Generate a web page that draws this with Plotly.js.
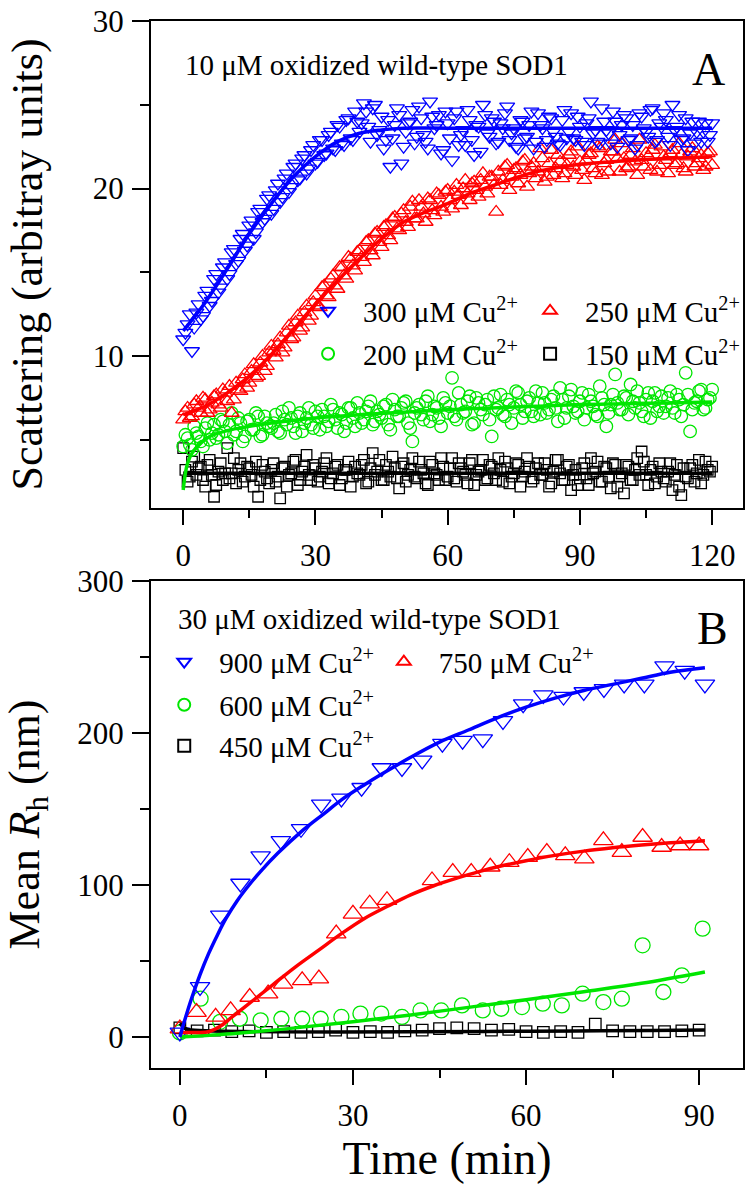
<!DOCTYPE html>
<html>
<head>
<meta charset="utf-8">
<script src="https://cdn.plot.ly/plotly-3.0.1.min.js"></script>
<style>
  html, body { margin: 0; padding: 0; background: #fff; }
  #chart { width: 752px; height: 1186px; }
</style>
</head>
<body>
<div id="chart"></div>
<script>
// ---- Panel A: light scattering, 10 uM oxidized SOD1 (time in min) ----
// readings on the whole minute
const timeA = [0,1,2,3,4,5,6,7,8,9,10,11,12,13,14,15,16,17,18,19,20,21,22,23,24,25,26,27,28,29,30,
  31,32,33,34,35,36,37,38,39,40,41,42,43,44,45,46,47,48,49,50,51,52,53,54,55,56,57,58,59,60,
  61,62,63,64,65,66,67,68,69,70,71,72,73,74,75,76,77,78,79,80,81,82,83,84,85,86,87,88,89,90,
  91,92,93,94,95,96,97,98,99,100,101,102,103,104,105,106,107,108,109,110,111,112,113,114,115,116,117,118,119,120];

const cu300A = [11.0,11.9,10.3,12.6,12.2,13.6,13.0,14.6,13.8,15.3,14.6,16.2,15.5,17.0,16.3,17.8,17.0,18.6,18.0,19.4,
  18.5,19.9,19.2,20.6,19.8,21.3,20.5,21.8,20.9,22.3,21.5,22.9,22.0,23.2,22.4,23.8,22.7,24.1,23.0,24.6,
  23.4,25.1,23.7,24.8,23.2,24.3,22.9,21.3,23.8,24.4,22.5,23.9,24.7,23.1,24.2,22.8,25.2,23.6,24.4,22.3,
  23.9,21.7,24.6,23.2,22.6,24.1,22.0,23.7,25.0,23.3,24.2,22.7,23.9,24.5,22.9,23.6,22.4,24.0,23.1,24.6,
  22.8,23.8,22.5,24.3,23.4,22.7,24.1,23.0,24.5,22.9,23.7,22.6,24.2,23.3,22.8,24.8,23.5,22.7,24.0,23.2,
  24.4,22.9,23.8,22.6,24.3,23.4,24.7,22.8,23.9,24.5,23.1,25.0,23.7,22.9,24.2,23.3,22.7,24.0,23.4,22.8,23.9];

const cu250A = [6.2,6.9,6.4,7.3,6.6,7.4,6.8,7.6,7.1,8.0,7.3,6.6,8.4,7.9,8.9,8.4,9.5,8.8,10.0,9.4,
  10.6,9.9,11.1,10.5,11.8,11.1,12.4,11.7,13.0,12.4,13.6,12.9,14.2,13.5,14.8,14.0,15.3,14.6,15.8,15.1,
  16.3,15.6,16.9,16.0,17.4,16.5,17.8,16.9,18.3,17.5,18.7,17.7,19.2,18.2,18.9,18.0,19.3,18.4,19.6,18.6,
  19.9,18.8,20.2,19.0,20.5,19.3,20.4,19.5,20.9,19.7,20.7,18.6,20.2,21.3,19.9,21.1,20.3,21.6,20.1,21.3,
  20.6,22.4,20.4,21.5,20.8,22.0,20.6,21.4,22.2,20.8,21.6,20.5,22.0,21.2,22.5,20.8,21.7,22.2,22.9,21.0,
  21.8,21.3,22.4,20.8,21.7,22.1,21.1,22.6,21.4,21.9,20.9,22.3,21.5,22.0,21.0,22.2,21.3,21.8,21.1,22.1,21.4];

const cu200A = [4.6,5.1,4.4,5.4,4.9,5.7,5.0,5.9,5.3,6.1,4.8,6.6,5.5,6.0,5.2,6.2,5.6,6.4,5.3,6.0,
  5.7,6.5,5.4,6.2,6.9,5.8,6.4,5.5,6.3,5.9,6.7,5.6,6.4,6.1,6.8,5.7,6.5,6.0,6.9,5.8,
  6.6,6.2,7.0,5.9,6.7,6.3,7.1,5.6,6.8,6.4,7.2,6.0,4.9,6.9,6.5,7.3,6.1,7.0,6.3,7.5,
  6.6,8.7,6.2,7.1,6.7,7.6,6.0,7.2,6.5,7.4,5.2,6.8,7.7,6.4,7.1,6.9,7.8,6.3,7.3,6.7,
  7.9,6.5,7.2,6.8,7.6,6.1,7.4,6.9,8.0,6.6,7.3,6.2,7.7,7.0,6.4,7.5,5.8,7.1,8.9,6.8,
  7.6,6.5,7.3,7.9,6.7,7.4,6.3,7.8,7.0,6.6,7.5,6.9,7.7,6.4,9.0,5.5,7.2,7.9,6.8,7.4,8.0];

const cu150A = [4.5,2.5,3.7,2.9,3.4,2.2,3.8,1.6,3.1,2.6,4.5,3.0,2.4,3.6,2.8,3.3,2.2,1.6,3.5,2.7,
  3.2,2.5,1.5,3.4,2.9,3.7,2.3,3.1,4.1,2.6,3.3,2.8,3.6,2.4,3.0,3.5,2.7,3.2,2.2,3.4,
  2.9,3.8,2.5,4.2,3.1,2.6,3.5,2.8,3.3,2.1,3.6,2.9,3.9,2.7,3.2,2.4,3.7,3.0,2.6,3.4,
  2.8,3.9,2.5,3.3,2.9,3.6,2.3,3.1,3.8,2.7,3.4,2.6,3.2,3.7,2.4,3.0,3.5,2.8,3.9,2.5,
  3.3,2.9,3.6,2.2,3.1,3.8,2.6,3.4,2.0,3.2,2.7,3.6,2.3,3.0,3.7,2.5,3.3,2.1,3.5,2.8,
  1.8,3.4,2.6,3.9,4.3,2.9,3.2,2.4,3.6,2.7,3.1,2.0,3.5,1.7,2.8,3.3,2.5,3.8,2.9,3.2,3.4];

// readings on the half minute
const timeAHalf = [0.5,1.5,2.5,3.5,4.5,5.5,6.5,7.5,8.5,9.5,10.5,11.5,12.5,13.5,14.5,15.5,16.5,17.5,18.5,19.5,
  20.5,21.5,22.5,23.5,24.5,25.5,26.5,27.5,28.5,29.5,30.5,31.5,32.5,33.5,34.5,35.5,36.5,37.5,38.5,39.5,
  40.5,41.5,42.5,43.5,44.5,45.5,46.5,47.5,48.5,49.5,50.5,51.5,52.5,53.5,54.5,55.5,56.5,57.5,58.5,59.5,
  60.5,61.5,62.5,63.5,64.5,65.5,66.5,67.5,68.5,69.5,70.5,71.5,72.5,73.5,74.5,75.5,76.5,77.5,78.5,79.5,
  80.5,81.5,82.5,83.5,84.5,85.5,86.5,87.5,88.5,89.5,90.5,91.5,92.5,93.5,94.5,95.5,96.5,97.5,98.5,99.5,
  100.5,101.5,102.5,103.5,104.5,105.5,106.5,107.5,108.5,109.5,110.5,111.5,112.5,113.5,114.5,115.5,116.5,117.5,118.5,119.5];

const cu300AHalf = [11.4,12.5,11.7,13.1,12.4,13.9,13.3,14.9,14.1,15.6,14.9,16.4,15.7,17.3,16.6,18.1,17.4,18.8,18.2,19.6,
  18.8,20.3,19.5,20.9,20.1,21.5,20.6,22.0,21.2,22.6,21.6,22.9,22.1,23.4,22.3,23.7,22.6,24.2,22.9,24.0,
  23.9,24.6,22.8,25.0,23.5,22.4,24.1,23.0,24.8,21.5,23.4,24.0,22.7,24.9,23.2,22.4,24.3,23.8,22.1,24.6,
  23.0,24.2,22.6,23.5,24.7,22.9,23.8,22.2,24.4,23.1,24.0,22.8,23.6,24.9,23.3,22.5,24.1,23.0,23.8,22.4,
  24.5,23.6,22.9,24.2,23.1,22.6,24.7,23.4,23.0,24.3,22.8,23.9,25.2,23.5,22.7,24.0,23.3,24.6,22.5,23.8,
  24.2,23.0,22.4,24.5,23.6,23.1,24.8,22.9,23.7,24.1,22.6,23.5,24.4,23.0,22.3,24.0,23.4,22.8,23.9,23.2];

const cu250AHalf = [6.7,6.3,7.1,6.9,7.5,6.6,7.2,7.7,6.9,7.8,8.2,7.4,8.0,8.6,8.1,9.1,8.7,9.6,9.1,10.2,
  10.3,10.7,10.2,11.4,11.0,12.0,11.5,12.6,12.1,13.2,13.0,14.1,13.6,14.6,14.2,15.3,14.8,15.9,15.4,16.2,
  15.9,16.8,16.3,17.3,16.8,17.7,17.2,18.2,17.6,18.5,18.0,18.9,18.2,19.3,18.5,19.4,18.7,19.7,18.9,19.8,
  19.3,19.8,19.6,20.0,19.7,20.3,19.9,20.5,20.1,20.7,20.2,21.0,20.5,21.4,20.7,21.2,20.8,21.7,20.9,21.5,
  21.0,21.8,20.7,22.3,21.2,21.6,20.9,22.0,21.3,22.5,21.1,21.7,22.1,20.9,22.4,21.5,21.0,22.2,21.8,22.7,
  21.2,22.0,21.6,22.9,21.3,21.9,22.3,21.0,22.5,21.7,22.1,21.4,22.7,21.2,21.9,22.4,21.5,22.0,21.3,22.2];

const cu200AHalf = [5.3,4.7,5.8,5.2,4.6,6.0,5.4,5.1,6.2,5.5,5.9,5.3,6.3,4.9,6.1,5.6,6.6,5.2,6.4,5.8,
  6.0,5.5,6.7,5.9,6.3,5.4,6.6,6.0,6.9,5.7,6.4,6.8,5.8,7.1,6.2,6.6,5.5,6.9,6.3,7.2,
  6.0,6.7,7.3,6.1,6.5,7.0,5.9,7.4,6.4,6.9,7.3,5.7,6.6,7.1,6.2,7.6,6.5,6.9,5.8,7.2,
  7.0,6.4,7.8,6.6,7.3,5.9,7.5,6.8,7.1,6.2,7.6,6.9,6.5,7.4,6.0,7.9,7.1,6.7,7.5,6.4,
  7.2,7.8,6.6,7.4,6.9,8.1,6.3,7.6,7.0,6.7,7.8,6.9,7.3,6.5,8.2,7.1,6.6,7.7,7.2,6.8,
  7.5,8.3,6.9,7.2,6.4,7.8,7.3,6.7,7.6,7.0,7.9,6.6,7.4,7.1,7.7,6.8,7.3,8.0,6.9,7.5];

const cu150AHalf = [3.2,2.8,4.0,3.3,2.6,3.5,2.9,2.3,3.6,3.0,2.7,3.9,3.2,2.5,3.4,2.9,3.7,2.6,3.1,2.4,
  3.6,2.8,3.3,2.2,3.0,3.8,2.6,3.4,2.9,3.5,2.5,3.1,3.9,2.7,3.4,2.3,3.2,3.7,2.8,3.0,
  3.5,2.4,3.3,2.9,3.8,2.6,3.1,4.0,2.7,3.4,2.5,3.2,2.8,3.7,3.0,2.3,3.5,2.9,3.9,2.6,
  3.3,2.7,3.6,3.1,2.4,3.8,2.9,3.2,2.6,3.5,3.0,3.9,2.5,3.3,2.8,3.6,2.2,3.1,3.4,2.7,
  3.6,2.9,3.2,2.4,3.8,3.0,2.6,3.5,2.9,2.3,3.3,2.7,3.9,3.1,2.5,3.4,2.8,3.6,2.2,3.0,
  3.5,2.6,3.2,2.9,3.7,2.3,3.4,2.8,3.1,2.5,3.6,2.9,2.2,3.3,2.7,3.5,3.0,2.4,3.7,3.1];

// fitted curves, panel A
const fitT300A = [0,5,10,15,20,25,30,35,40,45,50,60,70,80,90,100,110,120];
const fit300A = [11.5,13.2,15.2,17.3,19.1,20.7,21.9,22.8,23.3,23.5,23.6,23.6,23.6,23.6,23.6,23.6,23.6,23.6];
const fitT250A = [0,5,10,15,20,25,30,35,40,45,50,55,60,65,70,75,80,85,90,100,110,120];
const fit250A = [6.5,7.0,7.8,8.8,10.1,11.6,13.1,14.5,15.8,17.0,18.0,18.6,19.1,19.7,20.15,20.6,21.0,21.25,21.45,21.65,21.8,21.9];
const fitT200A = [0,0.5,1,2,4,6,10,15,20,30,40,50,60,70,80,90,100,110,120];
const fit200A = [2.0,3.0,3.6,4.2,4.8,5.2,5.55,5.8,6.0,6.3,6.5,6.65,6.8,6.9,7.0,7.1,7.15,7.2,7.25];
const fitT150A = [0,120];
const fit150A = [3.0,3.0];

// ---- Panel B: mean hydrodynamic radius, 30 uM oxidized SOD1 ----
const time900B = [0,3.5,7,10.5,14,17.5,21,24.5,28,31.5,35,38.5,42,45.5,49,52.5,56,59.5,63,66.5,70,73.5,77,80.5,84,87.5,91];
const cu900B = [3,33,80,101,119,129,137,153,157,164,177,177,182,193,195,196,208,219,225,224,227,229,232,232,244,241,232];
const time750B = [0,2.9,6.2,8.8,12.1,15.3,17.9,21.2,24.1,27.1,30,32.9,35.9,43.7,47.3,50.5,53.8,57.1,60.3,63.6,66.8,70.1,73.4,76.6,80.2,83.5,86.7,90];
const cu750B = [5.5,16.4,13.2,17.5,26.3,28.5,35,37.3,38.4,68,81,87.7,90,103,108.5,108.5,112,115,118.4,121.7,119.5,117.3,129.4,121.7,131.6,125,126,126];
const time600B = [0,3.6,7,10.4,14,17.6,21.2,24.4,28,31.3,34.9,38.5,41.7,45.3,48.9,52.5,55.7,59.3,62.9,66.2,69.8,73.4,76.6,80.2,83.8,87,90.6];
const cu600B = [3,25.2,10,12,11,12,12,12,13.2,15.4,15.4,13.2,17.5,17.5,20.8,17.5,18.6,19.7,21.9,20.8,28.5,23,25.2,60.3,29.6,40.6,71.3];
const time450B = [0,3,6,9,12,15,18,21,24,27,30,33,36,39,42,45,48,51,54,57,60,63,66,69,72,75,78,81,84,87,90];
const cu450B = [6,4,4.5,3.5,4,3,3.5,3,3.5,4.5,3,3.5,3,4,4.5,5.5,6,5.5,4.5,5,3.5,3,3.5,3,8.5,4,3.5,3.5,3.5,4,4.5];

const fitT900B = [0,1,2,3.5,5,6.5,8,10,12,14,17,21,25,28,32,35,40,45,50,55,60,65,70,75,80,85,91];
const fit900B = [0,13,25,41,55,67,78,90,100,109,121,135,147,156,166,173,184,194,202,210,217,223,228,232,236,240,243];
const fitT750B = [0,3,5,7,9,11,13,16,20,24,28,32,36,40,44,48,52,56,60,65,70,75,80,85,91];
const fit750B = [3,3,3.5,7,13,19,25,34,46,57,68,78,86,93.5,99.5,104.5,109,112.8,116,119.5,122.3,124.5,126.3,127.8,129.2];
const fitT600B = [0,10,20,30,40,50,60,70,80,91];
const fit600B = [0,2.5,6,10,14.5,19.5,24.5,29.8,35.3,42.8];
const fitT450B = [0,1,2,91];
const fit450B = [9,5.5,4.6,4.6];

const serif = 'Liberation Serif, Times New Roman, serif';
const BLUE = '#0000ff', RED = '#ff0000', GREEN = '#00e600', BLACK = '#000000';

function pts(x, y, xa, ya, symbol, color, size, name, legend) {
    const tr = {
        type: 'scatter', mode: 'markers', x: x, y: y, xaxis: xa, yaxis: ya,
        marker: {symbol: symbol, size: size, color: color, line: {color: color, width: 1.3}}
    };
    if (legend) {
        tr.name = name;
        tr.legend = legend;
        tr.showlegend = true;
    } else {
        tr.showlegend = false;
    }
    return tr;
}

function fit(x, y, xa, ya, color) {
    return {
        type: 'scatter', mode: 'lines', x: x, y: y, xaxis: xa, yaxis: ya,
        showlegend: false, hoverinfo: 'skip',
        line: {color: color, width: 3.5, shape: 'spline'}
    };
}

const cuLabel = c => c + ' \u03bcM Cu<sup>2+</sup>';

const data = [
    pts(timeA, cu150A, 'x', 'y', 'square-open', BLACK, 10.5, cuLabel(150), 'legend4'),
    pts(timeAHalf, cu150AHalf, 'x', 'y', 'square-open', BLACK, 10.5),
    pts(timeA, cu200A, 'x', 'y', 'circle-open', GREEN, 12.5, cuLabel(200), 'legend2'),
    pts(timeAHalf, cu200AHalf, 'x', 'y', 'circle-open', GREEN, 12.5),
    pts(timeA, cu250A, 'x', 'y', 'triangle-up-open', RED, 13, cuLabel(250), 'legend3'),
    pts(timeAHalf, cu250AHalf, 'x', 'y', 'triangle-up-open', RED, 13),
    pts(timeA, cu300A, 'x', 'y', 'triangle-down-open', BLUE, 13, cuLabel(300), 'legend'),
    pts(timeAHalf, cu300AHalf, 'x', 'y', 'triangle-down-open', BLUE, 13),
    fit(fitT150A, fit150A, 'x', 'y', BLACK),
    fit(fitT200A, fit200A, 'x', 'y', GREEN),
    fit(fitT250A, fit250A, 'x', 'y', RED),
    fit(fitT300A, fit300A, 'x', 'y', BLUE),

    pts(time450B, cu450B, 'x3', 'y3', 'square-open', BLACK, 11.5, cuLabel(450), 'legend8'),
    pts(time600B, cu600B, 'x3', 'y3', 'circle-open', GREEN, 15, cuLabel(600), 'legend7'),
    pts(time750B, cu750B, 'x3', 'y3', 'triangle-up-open', RED, 17, cuLabel(750), 'legend6'),
    pts(time900B, cu900B, 'x3', 'y3', 'triangle-down-open', BLUE, 17, cuLabel(900), 'legend5'),
    fit(fitT450B, fit450B, 'x3', 'y3', BLACK),
    fit(fitT600B, fit600B, 'x3', 'y3', GREEN),
    fit(fitT750B, fit750B, 'x3', 'y3', RED),
    fit(fitT900B, fit900B, 'x3', 'y3', BLUE)
];

const tickFont = {family: serif, size: 31, color: '#000'};
const titleFont = {family: serif, size: 44, color: '#000'};

function mainX(range, anchor, title) {
    const ax = {
        anchor: anchor, range: range, autorange: false,
        tick0: 0, dtick: 30, ticks: 'outside', ticklen: 15, tickwidth: 2, tickcolor: '#000',
        minor: {dtick: 15, tick0: 0, ticks: 'outside', ticklen: 8, tickwidth: 2, tickcolor: '#000'},
        showline: true, linewidth: 2, linecolor: '#000', mirror: true,
        showgrid: false, zeroline: false, tickfont: tickFont, ticklabelstandoff: 4
    };
    if (title) ax.title = {text: title, font: {family: serif, size: 46, color: '#000'}, standoff: 0};
    return ax;
}

function mainY(range, domain, anchor, dtick, title, standoff) {
    return {
        anchor: anchor, domain: domain, range: range, autorange: false,
        tick0: 0, dtick: dtick, ticks: 'outside', ticklen: 17, tickwidth: 2, tickcolor: '#000',
        minor: {dtick: dtick / 2, tick0: 0, ticks: 'outside', ticklen: 9, tickwidth: 2, tickcolor: '#000'},
        showline: true, linewidth: 2, linecolor: '#000', mirror: true,
        showgrid: false, zeroline: false, tickfont: tickFont, ticklabelstandoff: 2,
        title: {text: title, font: titleFont, standoff: standoff}
    };
}

// mirrored inside ticks on top and right
function innerX(range, over, anchor) {
    return {
        overlaying: over, side: 'top', anchor: anchor, range: range, autorange: false,
        tick0: 0, dtick: 15, ticks: 'inside', ticklen: 17, tickwidth: 2, tickcolor: '#000',
        showticklabels: false, showline: false, showgrid: false, zeroline: false
    };
}

function innerY(range, over, anchor, dtick) {
    return {
        overlaying: over, side: 'right', anchor: anchor, range: range, autorange: false,
        tick0: 0, dtick: dtick, ticks: 'inside', ticklen: 17, tickwidth: 2, tickcolor: '#000',
        showticklabels: false, showline: false, showgrid: false, zeroline: false
    };
}

function legendAt(x, y) {
    return {
        x: x, y: y, xref: 'paper', yref: 'paper', xanchor: 'left', yanchor: 'middle',
        bgcolor: 'rgba(0,0,0,0)', borderwidth: 0, itemsizing: 'constant', itemwidth: 60,
        font: {family: serif, size: 29, color: '#000'}, itemclick: false
    };
}

const rangeXA = [-7.3, 127], rangeYA = [0.93, 30];
const rangeXB = [-5, 97.6], rangeYB = [-20.4, 300];

const layout = {
    width: 752, height: 1186,
    margin: {l: 151, r: 9, t: 21, b: 118, autoexpand: false},
    paper_bgcolor: '#fff', plot_bgcolor: '#fff',
    font: {family: serif, color: '#000'},
    xaxis: mainX(rangeXA, 'y'),
    yaxis: mainY(rangeYA, [0.5349, 1], 'x', 10, 'Scattering (arbitray units)', 36),
    xaxis2: innerX(rangeXA, 'x', 'y'),
    yaxis2: innerY(rangeYA, 'y', 'x', 5),
    xaxis3: mainX(rangeXB, 'y3', 'Time (min)'),
    yaxis3: mainY(rangeYB, [0, 0.4651], 'x3', 100, 'Mean <i>R</i><sub>h</sub> (nm)', 32),
    xaxis4: innerX(rangeXB, 'x3', 'y3'),
    yaxis4: innerY(rangeYB, 'y3', 'x3', 50),
    legend: legendAt(0.240, 0.7231),
    legend2: legendAt(0.240, 0.682),
    legend3: legendAt(0.615, 0.7231),
    legend4: legendAt(0.615, 0.682),
    legend5: legendAt(-0.003, 0.3879),
    legend6: legendAt(0.368, 0.3879),
    legend7: legendAt(-0.003, 0.3468),
    legend8: legendAt(-0.003, 0.3076),
    annotations: [
        {text: '10 \u03bcM oxidized wild-type SOD1', xref: 'paper', yref: 'paper', x: 0.054, y: 0.958,
         xanchor: 'left', yanchor: 'middle', showarrow: false, font: {family: serif, size: 29, color: '#000'}},
        {text: 'A', xref: 'paper', yref: 'paper', x: 0.941, y: 0.954,
         xanchor: 'center', yanchor: 'middle', showarrow: false, font: {family: serif, size: 46, color: '#000'}},
        {text: '30 \u03bcM oxidized wild-type SOD1', xref: 'paper', yref: 'paper', x: 0.042, y: 0.4288,
         xanchor: 'left', yanchor: 'middle', showarrow: false, font: {family: serif, size: 29, color: '#000'}},
        {text: 'B', xref: 'paper', yref: 'paper', x: 0.948, y: 0.420,
         xanchor: 'center', yanchor: 'middle', showarrow: false, font: {family: serif, size: 46, color: '#000'}}
    ]
};

Plotly.newPlot('chart', data, layout, {displayModeBar: false, staticPlot: true});
</script>
</body>
</html>
